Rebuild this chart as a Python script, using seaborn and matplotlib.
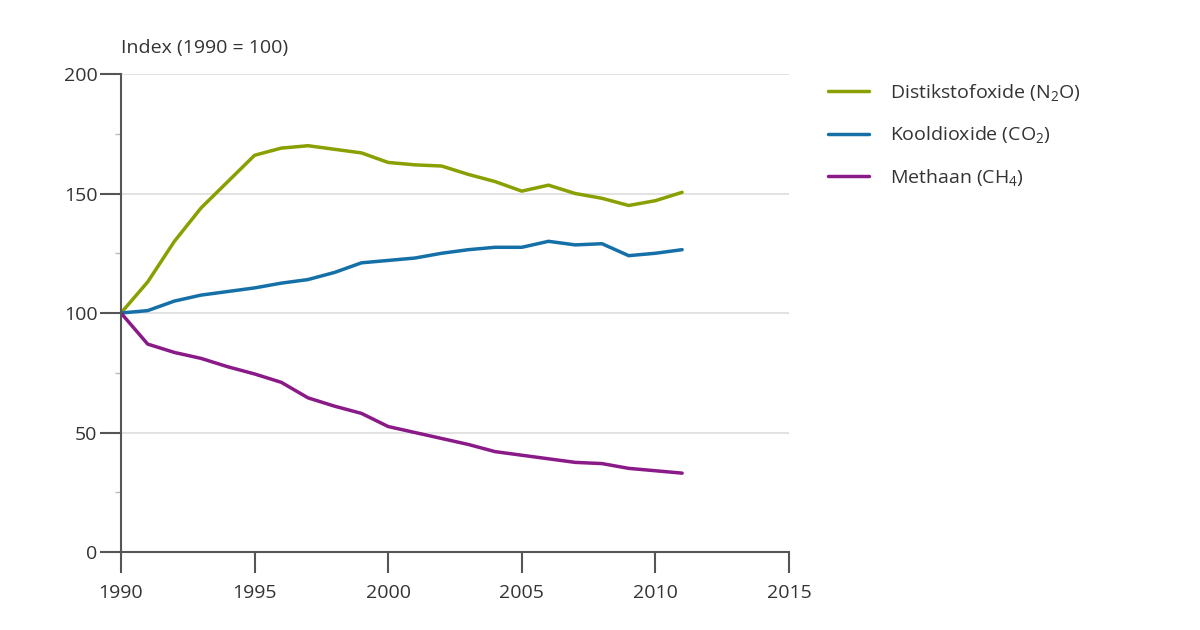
import numpy as np
import pandas as pd
import matplotlib
matplotlib.use('Agg')
import matplotlib.pyplot as plt
import seaborn as sns
from matplotlib.ticker import MultipleLocator

# Index values (1990 = 100)
years = list(range(1990, 2012))
n2o = [100, 113, 130, 144, 155, 166, 169, 170, 168.5, 167, 163, 162, 161.5,
       158, 155, 151, 153.5, 150, 148, 145, 147, 150.5]
co2 = [100, 101, 105, 107.5, 109, 110.5, 112.5, 114, 117, 121, 122, 123, 125,
       126.5, 127.5, 127.5, 130, 128.5, 129, 124, 125, 126.5]
ch4 = [100, 87, 83.5, 81, 77.5, 74.5, 71, 64.5, 61, 58, 52.5, 50, 47.5,
       45, 42, 40.5, 39, 37.5, 37, 35, 34, 33]

labels = ['Distikstofoxide (N$_2$O)', 'Kooldioxide (CO$_2$)', 'Methaan (CH$_4$)']
colors = ['#8a9f00', '#1670a8', '#8a1a88']

df = pd.DataFrame({
    'jaar': years * 3,
    'index': n2o + co2 + ch4,
    'stof': [labels[0]] * len(years) + [labels[1]] * len(years) + [labels[2]] * len(years),
})

sns.set_style('white')
plt.rcParams['font.family'] = ['Open Sans', 'DejaVu Sans']
plt.rcParams['mathtext.default'] = 'regular'
plt.rcParams['font.size'] = 14

fig = plt.figure(figsize=(12, 6.3), dpi=100)
ax = fig.add_axes([0.1008, 0.1238, 0.5567, 0.7587])

sns.lineplot(data=df, x='jaar', y='index', hue='stof', palette=colors,
             linewidth=2.5, ax=ax, legend=False)

ax.set_xlim(1990, 2015)
ax.set_ylim(0, 200)
ax.xaxis.set_major_locator(MultipleLocator(5))
ax.yaxis.set_major_locator(MultipleLocator(50))
ax.yaxis.set_minor_locator(MultipleLocator(25))
ax.grid(axis='y', which='major', color='#dddddd', linewidth=1.2)
ax.set_axisbelow(True)

for side in ['top', 'right']:
    ax.spines[side].set_visible(False)
for side in ['left', 'bottom']:
    ax.spines[side].set_color('#555555')
    ax.spines[side].set_linewidth(1.5)

ax.tick_params(bottom=True, left=True)
ax.tick_params(axis='both', which='major', direction='out', length=15,
               width=1.5, color='#555555', labelsize=14, labelcolor='#333333')
ax.tick_params(axis='y', which='major', pad=2)
ax.tick_params(axis='x', which='major', pad=8)
ax.tick_params(axis='y', which='minor', left=True, direction='out', length=4,
               width=1, color='#bbbbbb')
ax.set_xlabel('')
ax.set_ylabel('')

fig.text(121 / 1200, 1 - 48 / 630, 'Index (1990 = 100)', fontsize=14,
         color='#333333', ha='left', va='center')

handles = [plt.Line2D([], [], color=c, linewidth=2.5) for c in colors]
fig.legend(handles, labels, loc='upper left',
           bbox_to_anchor=(828 / 1200, 1 - 82 / 630),
           bbox_transform=fig.transFigure, frameon=False, borderpad=0,
           borderaxespad=0, handlelength=2.1, handletextpad=1.1,
           labelspacing=1.1, fontsize=14, labelcolor='#333333')

fig.savefig('out.png', dpi=100)
